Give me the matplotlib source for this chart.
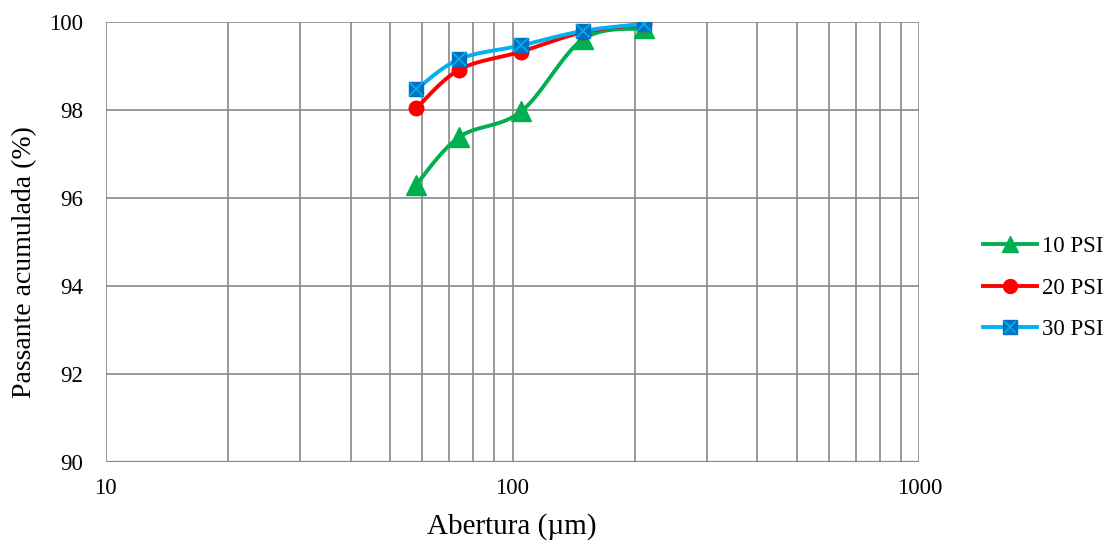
import numpy as np
import matplotlib
matplotlib.use("Agg")
import matplotlib.pyplot as plt
from matplotlib.lines import Line2D
from matplotlib.ticker import LogLocator, FixedLocator, NullFormatter

plt.rcParams['font.family'] = ['Liberation Serif', 'DejaVu Serif']

abertura = [58, 74, 105, 149, 210]
psi10 = [96.30, 97.38, 97.96, 99.60, 99.85]
psi20 = [98.03, 98.91, 99.32, 99.76, 99.94]
psi30 = [98.46, 99.15, 99.46, 99.79, 99.95]
labels = ['10 PSI', '20 PSI', '30 PSI']

W, H = 1112, 546
fig = plt.figure(figsize=(W/100, H/100), dpi=100)
L, R, T, B = 105.7, 919.3, 21.7, 461.7
ax = fig.add_axes([L/W, 1-B/H, (R-L)/W, (B-T)/H])
ax.set_xscale('log')
ax.set_xlim(10, 1000)
ax.set_ylim(90, 100)

def smooth(xs, ys, n=30):
    # Catmull-Rom in display coordinates
    pts = ax.transData.transform(np.column_stack([xs, ys]))
    P = np.vstack([pts[0], pts, pts[-1]])
    out = []
    for i in range(1, len(P)-2):
        p0, p1, p2, p3 = P[i-1], P[i], P[i+1], P[i+2]
        c1 = p1 + (p2 - p0) / 6
        c2 = p2 - (p3 - p1) / 6
        t = np.linspace(0, 1, n)[:, None]
        seg = (1-t)**3*p1 + 3*(1-t)**2*t*c1 + 3*(1-t)*t**2*c2 + t**3*p2
        out.append(seg if i == 1 else seg[1:])
    out = np.vstack(out)
    d = ax.transData.inverted().transform(out)
    return d[:, 0], d[:, 1]

green = '#00B050'
red = '#FF0000'
cyan = '#00B0F0'
blue = '#0070C0'
LW = 2.8

sx, sy = smooth(abertura, psi10)
ax.plot(sx, sy, color=green, lw=LW, zorder=3)
ax.plot(abertura, psi10, ls='none', marker='^', ms=15, color=green, zorder=4)
sx, sy = smooth(abertura, psi20)
ax.plot(sx, sy, color=red, lw=LW, zorder=3)
ax.plot(abertura, psi20, ls='none', marker='o', ms=10.5, color=red, zorder=4)
sx, sy = smooth(abertura, psi30)
ax.plot(sx, sy, color=cyan, lw=LW, zorder=5)
ax.plot(abertura, psi30, ls='none', marker='s', ms=10.5, mfc=blue, mec=blue, zorder=6)
ax.plot(abertura, psi30, ls='none', marker='x', ms=9.5, mew=1.2, color=cyan, zorder=7)

ax.xaxis.set_major_locator(FixedLocator([10, 100, 1000]))
ax.xaxis.set_minor_locator(LogLocator(base=10, subs=np.arange(2, 10)))
ax.xaxis.set_minor_formatter(NullFormatter())
ax.set_xticklabels(['10', '100', '1000'])
ax.set_yticks([90, 92, 94, 96, 98, 100])
ax.grid(True, which='both', color='#888888', lw=1.2)
ax.set_axisbelow(True)
for s in ax.spines.values():
    s.set_visible(False)
ax.axhline(90, color='#888888', lw=1.6, zorder=2)
ax.tick_params(which='both', length=0, labelsize=16.5)
ax.tick_params(axis='x', pad=12)
ax.tick_params(axis='y', pad=16)
ax.set_xlabel('Abertura (µm)', fontsize=21)
ax.set_ylabel('Passante acumulada (%)', fontsize=20)
ax.xaxis.set_label_coords((512 - L)/(R-L), -(527 - B)/(B-T))
ax.xaxis.label.set_va('center')
ax.yaxis.set_label_coords(-(L - 25)/(R-L), (B - 262)/(B-T))
ax.yaxis.label.set_va('center')

handles = [
    Line2D([], [], color=green, lw=LW, marker='^', ms=11),
    Line2D([], [], color=red, lw=LW, marker='o', ms=10),
    (Line2D([], [], color=cyan, lw=LW, marker='s', ms=10, mfc=blue, mec=blue),
     Line2D([], [], ls='none', marker='x', ms=9, mew=1.2, color=cyan)),
]
fig.legend(handles, labels, loc='center left', bbox_to_anchor=(962/W, 1-288/H),
           frameon=False, fontsize=16.5, handlelength=2.36, handletextpad=0.25,
           labelspacing=0.88)

fig.savefig('out.png', dpi=100)
